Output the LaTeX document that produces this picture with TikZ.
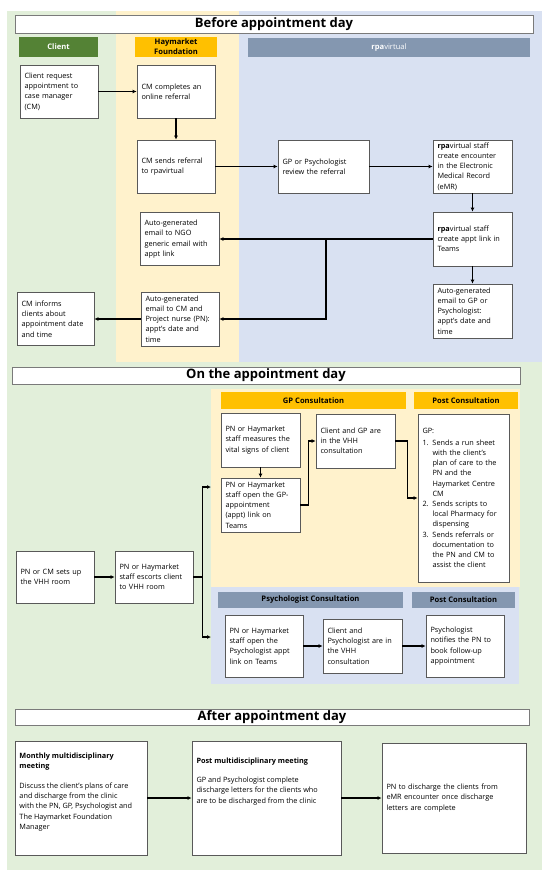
\documentclass[tikz,border=0pt]{standalone}
\usepackage{fontspec}
\setmainfont{Open Sans}
\usetikzlibrary{arrows.meta}

\definecolor{lgreen}{HTML}{E2EFDA}
\definecolor{lyellow}{HTML}{FFF2CC}
\definecolor{lblue}{HTML}{D9E1F2}
\definecolor{dgreen}{HTML}{548235}
\definecolor{amber}{HTML}{FFC000}
\definecolor{slate}{HTML}{8497B0}
\definecolor{boxline}{HTML}{595959}

\tikzset{
  box/.style={draw=boxline, fill=white, line width=0.8pt, align=left,
    inner xsep=4.5pt, inner ysep=2pt, font=\fontsize{7.3}{10.2}\selectfont},
  head/.style={inner sep=0pt, align=center, font=\fontsize{7.6}{9.8}\selectfont\bfseries},
  title/.style={draw=boxline!80, fill=white, line width=0.9pt, inner sep=0pt,
    font=\fontsize{13}{15}\selectfont\bfseries},
  flow/.style={-{Latex[length=4pt,width=4pt]}, line width=1.2pt}
}

\begin{document}
\begin{tikzpicture}[x=1pt,y=-1pt]
  \useasboundingbox (0,0) rectangle (550,879);

  % Draw the lanes
  \fill[lgreen]  (7,11) rectangle (116,362);
  \fill[lyellow] (116,11) rectangle (239,362);
  \fill[lblue]   (239,11) rectangle (542,362);
  \fill[lgreen]  (7,362) rectangle (542,870);
  \fill[lyellow] (211,389) rectangle (520,587);
  \fill[lblue]   (211,587) rectangle (519,684);

  % Titles and lane heads
  \node[title, minimum width=518pt, minimum height=18pt] (tbefore) at (274,24) {Before appointment day};
  \node[title, minimum width=508pt, minimum height=17pt] (ton) at (266,375.5) {On the appointment day};
  \node[title, minimum width=514pt, minimum height=16pt] (tafter) at (272,717) {After appointment day};

  \node[head, fill=dgreen, text=white, minimum width=79pt, minimum height=20pt] (hclient) at (58.5,47) {Client};
  \node[head, fill=amber, minimum width=82pt, minimum height=20pt] (hhay) at (176,47) {Haymarket\\Foundation};
  \node[head, fill=slate, text=white, minimum width=282pt, minimum height=19pt, font=\fontsize{7.6}{9.8}\selectfont] (hrpa) at (389,47.5) {\textbf{rpa}virtual};
  \node[head, fill=amber, minimum width=185pt, minimum height=17pt] (hgp) at (313.5,400.5) {GP Consultation};
  \node[head, fill=amber, minimum width=104pt, minimum height=17pt] (hpostgp) at (466,400.5) {Post Consultation};
  \node[head, fill=slate, minimum width=185pt, minimum height=16pt] (hpsy) at (310.5,600) {Psychologist Consultation};
  \node[head, fill=slate, minimum width=103pt, minimum height=16pt] (hpostpsy) at (463.5,600) {Post Consultation};

  % Before appointment day
  \node[box, text width=69pt, minimum height=53pt] (b1) at (59,91.5) {Client request\\appointment to\\case manager\\(CM)};
  \node[box, text width=69pt, minimum height=53pt] (b2) at (176,91.5) {CM completes an\\online referral};
  \node[box, text width=69pt, minimum height=53pt] (b3) at (176,166.5) {CM sends referral\\to rpavirtual};
  \node[box, text width=82pt, minimum height=53pt] (b4) at (323.5,166.5) {GP or Psychologist\\review the referral};
  \node[box, text width=70pt, minimum height=53pt] (b5) at (472.5,166.5) {\textbf{rpa}virtual staff\\create encounter\\in the Electronic\\Medical Record\\(eMR)};
  \node[box, text width=70pt, minimum height=54pt] (b6) at (472.5,239) {\textbf{rpa}virtual staff\\create appt link in\\Teams};
  \node[box, text width=70pt, minimum height=54pt] (b7) at (472.5,311) {Auto-generated\\email to GP or\\Psychologist:\\appt's date and\\time};
  \node[box, text width=70pt, minimum height=53pt] (b8) at (179.5,239) {Auto-generated\\email to NGO\\generic email with\\appt link};
  \node[box, text width=69pt, minimum height=54pt] (b9) at (180,319) {Auto-generated\\email to CM and\\Project nurse (PN):\\appt's date and\\time};
  \node[box, text width=68pt, minimum height=53pt] (b10) at (55.5,319) {CM informs\\clients about\\appointment date\\and time};
  \coordinate (j1) at (326,239);

  \draw[flow] (b1) -- (b2);
  \draw[flow] (b2) -- (b3);
  \draw[flow] (b3) -- (b4);
  \draw[flow] (b4) -- (b5);
  \draw[flow] (b5) -- (b6);
  \draw[flow] (b6) -- (b7);
  \draw[flow] (b6.west) -- (b8.east);
  \draw[flow] (j1) |- (b9.east);
  \draw[flow] (b9) -- (b10);

  % On the appointment day
  \node[box, text width=69pt, minimum height=52pt] (m1) at (55,577) {PN or CM sets up\\the VHH room};
  \node[box, text width=69pt, minimum height=52pt] (m2) at (154,577) {PN or Haymarket\\staff escorts client\\to VHH room};
  \node[box, text width=70pt, minimum height=54pt] (g1) at (260.5,440) {PN or Haymarket\\staff measures the\\vital signs of client};
  \node[box, text width=70pt, minimum height=54pt] (g2) at (260.5,505) {PN or Haymarket\\staff open the GP-\\appointment\\(appt) link on\\Teams};
  \node[box, text width=70pt, minimum height=54pt] (g3) at (355.5,441) {Client and GP are\\in the VHH\\consultation};
  \node[box, text width=82pt, minimum height=168pt] (g4) at (463.5,498) {GP:\\[1.5pt]
    \makebox[10pt][l]{1.}Sends a run sheet\\\hspace*{10pt}with the client's\\\hspace*{10pt}plan of care to the\\\hspace*{10pt}PN and the\\\hspace*{10pt}Haymarket Centre\\\hspace*{10pt}CM\\
    \makebox[10pt][l]{2.}Sends scripts to\\\hspace*{10pt}local Pharmacy for\\\hspace*{10pt}dispensing\\
    \makebox[10pt][l]{3.}Sends referrals or\\\hspace*{10pt}documentation to\\\hspace*{10pt}the PN and CM to\\\hspace*{10pt}assist the client};
  \node[box, text width=69pt, minimum height=62pt] (p1) at (264,646) {PN or Haymarket\\staff open the\\Psychologist appt\\link on Teams};
  \node[box, text width=70pt, minimum height=54pt] (p2) at (362.5,646) {Client and\\Psychologist are in\\the VHH\\consultation};
  \node[box, text width=69pt, minimum height=62pt] (p3) at (465,646) {Psychologist\\notifies the PN to\\book follow-up\\appointment};
  \coordinate (gpin) at (211,487);
  \coordinate (psyin) at (211,637);

  \draw[flow] (m1) -- (m2);
  \draw[flow] (m2.east) -- ++(9,0) |- (gpin);
  \draw[flow] (m2.east) -- ++(9,0) |- (psyin);
  \draw[flow] (g1) -- (g2);
  \draw[flow] (g2.east) -- ++(8,0) |- (g3.west);
  \draw[flow] (g3.east) -- ++(12,0) |- (g4.west);
  \draw[flow] (p1) -- (p2);
  \draw[flow] (p2) -- (p3);

  % After appointment day
  \node[box, inner ysep=5pt] (a1) at (81,798) {\parbox[c][104pt][t]{123pt}{\raggedright\vspace*{7pt}%
    \textbf{Monthly multidisciplinary\\meeting}\\[9.5pt]
    Discuss the client's plans of care\\and discharge from the clinic\\with the PN, GP, Psychologist and\\The Haymarket Foundation\\Manager}};
  \node[box, inner ysep=5pt] (a2) at (266.5,798) {\parbox[c][104pt][t]{140pt}{\raggedright\vspace*{12pt}%
    \textbf{Post multidisciplinary meeting}\\[9pt]
    GP and Psychologist complete\\discharge letters for the clients who\\are to be discharged from the clinic}};
  \node[box, text width=135pt, minimum height=110pt] (a3) at (454,798) {PN to discharge the clients from\\eMR encounter once discharge\\letters are complete};

  \draw[flow] (a1) -- (a2);
  \draw[flow] (a2) -- (a3);
\end{tikzpicture}
\end{document}
